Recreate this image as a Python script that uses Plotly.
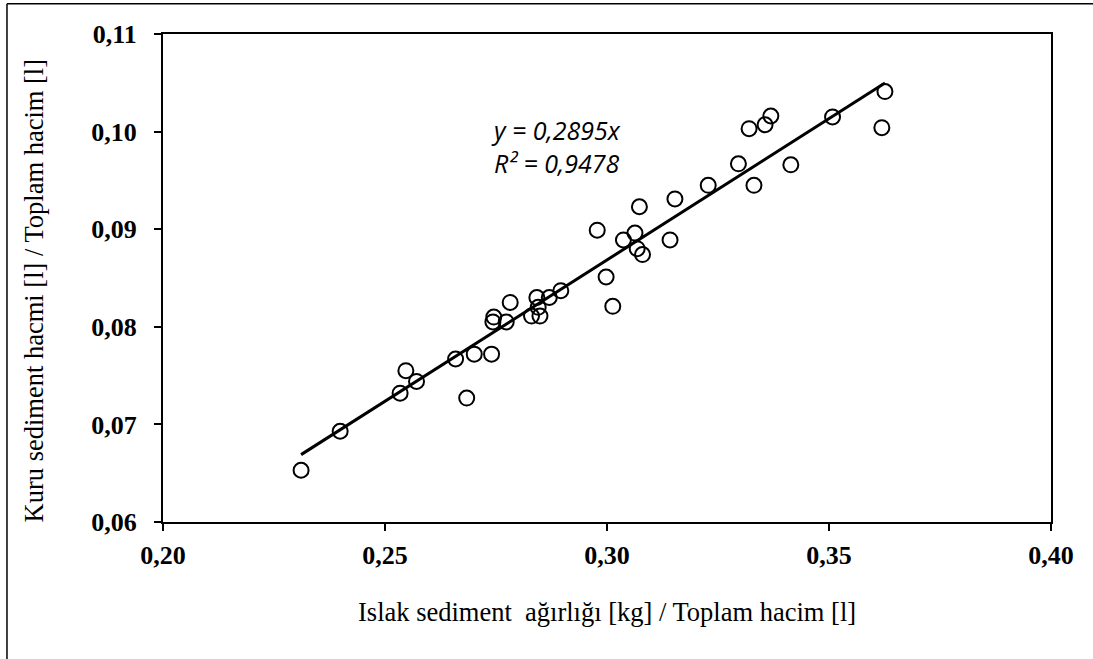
import plotly.graph_objects as go

# Wet sediment weight / total volume  vs  dry sediment volume / total volume
islak = [0.2311, 0.2399, 0.2534, 0.2547, 0.2571, 0.2659, 0.2684, 0.2701, 0.2740,
         0.2743, 0.2745, 0.2773, 0.2782, 0.2830, 0.2842, 0.2845, 0.2849, 0.2870,
         0.2896, 0.2978, 0.2998, 0.3013, 0.3037, 0.3063, 0.3068, 0.3073, 0.3080,
         0.3142, 0.3153, 0.3228, 0.3296, 0.3320, 0.3331, 0.3356, 0.3369, 0.3414,
         0.3508, 0.3619, 0.3626]
kuru = [0.0653, 0.0693, 0.0732, 0.0755, 0.0744, 0.0767, 0.0727, 0.0772, 0.0772,
        0.0805, 0.0810, 0.0805, 0.0825, 0.0811, 0.0830, 0.0820, 0.0811, 0.0830,
        0.0837, 0.0899, 0.0851, 0.0821, 0.0889, 0.0896, 0.0880, 0.0923, 0.0874,
        0.0889, 0.0931, 0.0945, 0.0967, 0.1003, 0.0945, 0.1007, 0.1016, 0.0966,
        0.1015, 0.1004, 0.1041]

egim = 0.2895          # trend line slope (through origin)
r_kare = 0.9478

x_ticks = [0.20, 0.25, 0.30, 0.35, 0.40]
y_ticks = [0.06, 0.07, 0.08, 0.09, 0.10, 0.11]

x_min, x_max = min(islak), max(islak)
trend_x = [x_min, x_max]
trend_y = [egim * v for v in trend_x]

fig = go.Figure()
fig.add_trace(go.Scatter(
    x=trend_x, y=trend_y, mode="lines",
    line=dict(color="black", width=3), hoverinfo="skip", showlegend=False))
fig.add_trace(go.Scatter(
    x=islak, y=kuru, mode="markers",
    marker=dict(symbol="circle-open", size=15, color="black",
                line=dict(color="black", width=2)),
    showlegend=False))

tick_font = dict(family="Liberation Serif", size=26, color="black", weight="bold")

fig.update_xaxes(
    range=[0.20, 0.40], tickvals=x_ticks, tickformat=".2f",
    showline=True, linecolor="black", linewidth=2, mirror=True,
    ticks="outside", ticklen=7, tickwidth=1.5, tickcolor="black",
    showgrid=False, zeroline=False, tickfont=tick_font, ticklabelstandoff=2)
fig.update_yaxes(
    range=[0.06, 0.11], tickvals=y_ticks, tickformat=".2f",
    showline=True, linecolor="black", linewidth=2, mirror=True,
    ticks="outside", ticklen=7, tickwidth=1.5, tickcolor="black",
    showgrid=False, zeroline=False, tickfont=tick_font, ticklabelstandoff=12)

title_font = dict(family="Liberation Serif", size=26.5, color="black")
eq_font = dict(family="Open Sans", size=25, color="black", style="italic")

denklem = (f"y = {str(egim).replace('.', ',')}x<br>"
           f"R² = {str(r_kare).replace('.', ',')}")

fig.update_layout(
    width=1093, height=659,
    margin=dict(l=163, r=42, t=34, b=137),
    paper_bgcolor="white", plot_bgcolor="white",
    separators=",.",
    annotations=[
        dict(text="Islak sediment  ağırlığı [kg] / Toplam hacim [l]",
             xref="paper", yref="paper", x=0.5, y=-0.185,
             xanchor="center", yanchor="middle", showarrow=False, font=title_font),
        dict(text="Kuru sediment hacmi [l] / Toplam hacim [l]",
             xref="paper", yref="paper", x=-0.145, y=0.475, textangle=-90,
             xanchor="center", yanchor="middle", showarrow=False, font=title_font),
        dict(text=denklem, align="left",
             xref="x", yref="y", x=0.2734, y=0.0985,
             xanchor="left", yanchor="middle", showarrow=False, font=eq_font),
    ],
    shapes=[
        # outer chart border (left and top edges)
        dict(type="line", xref="paper", yref="paper",
             x0=-0.1757, x1=-0.1757, y0=1.062, y1=-0.5,
             line=dict(color="black", width=1.5)),
        dict(type="line", xref="paper", yref="paper",
             x0=-0.1757, x1=1.2, y0=1.062, y1=1.062,
             line=dict(color="black", width=1.5)),
    ],
)

fig.write_html("out.html")
